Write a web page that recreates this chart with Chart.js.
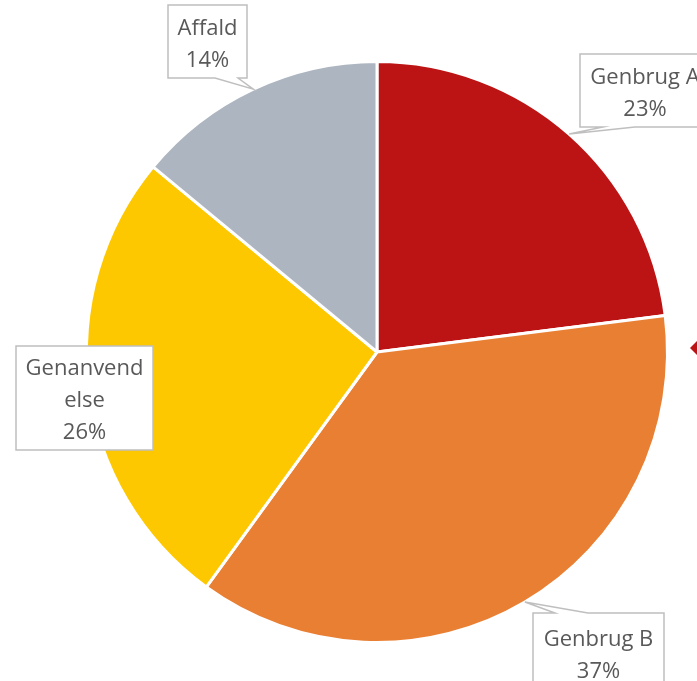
<!DOCTYPE html>
<html>
<head>
<meta charset="utf-8">
<script src="https://cdn.jsdelivr.net/npm/chart.js@4/dist/chart.umd.min.js"></script>
<style>
  html, body { margin: 0; padding: 0; background: #fff; }
  #wrap { width: 697px; height: 681px; }
</style>
</head>
<body>
<div id="wrap"><canvas id="pie"></canvas></div>
<script>
// data
const categories = ["Genbrug A", "Genbrug B", "Genanvendelse", "Affald"];
const shares = [23, 37, 26, 14];
const sliceColors = ["#BC1414", "#E97F33", "#FDC800", "#ADB5C0"];

// callout boxes (position of the box, tail base on box edge)
const callouts = [
    {x: 580, y: 54, w: 130, h: 73, tail: "bottom", t1: 603, t2: 635},
    {x: 533, y: 613, w: 131, h: 80, tail: "top", t1: 555, t2: 588},
    {x: 16, y: 346, w: 137, h: 104, tail: null, wrap: 9},
    {x: 168, y: 5, w: 79, h: 73, tail: "bottom", t1: 215, t2: 238}
];

const calloutPlugin = {
    id: "callouts",
    afterDraw(chart) {
        let ctx = chart.ctx;
        let meta = chart.getDatasetMeta(0);
        let total = shares.reduce((a, b) => a + b, 0);
        ctx.save();
        meta.data.forEach(function(arc, i) {
            let c = callouts[i];
            let p = arc.getProps(["x", "y", "startAngle", "endAngle", "outerRadius"], true);
            let mid = (p.startAngle + p.endAngle) / 2;
            let tipX = p.x + Math.cos(mid) * p.outerRadius;
            let tipY = p.y + Math.sin(mid) * p.outerRadius;

            ctx.beginPath();
            ctx.moveTo(c.x, c.y);
            if (c.tail === "top") {
                ctx.lineTo(c.t1, c.y);
                ctx.lineTo(tipX, tipY);
                ctx.lineTo(c.t2, c.y);
            }
            ctx.lineTo(c.x + c.w, c.y);
            ctx.lineTo(c.x + c.w, c.y + c.h);
            if (c.tail === "bottom") {
                ctx.lineTo(c.t2, c.y + c.h);
                ctx.lineTo(tipX, tipY);
                ctx.lineTo(c.t1, c.y + c.h);
            }
            ctx.lineTo(c.x, c.y + c.h);
            ctx.closePath();
            ctx.fillStyle = "#FFFFFF";
            ctx.fill();
            ctx.strokeStyle = "#BFBFBF";
            ctx.lineWidth = 1.5;
            ctx.stroke();

            let name = categories[i];
            let lines = c.wrap ? [name.slice(0, c.wrap), name.slice(c.wrap)] : [name];
            lines.push(Math.round(shares[i] / total * 100) + "%");
            let lh = 32;
            let cy = c.y + c.h / 2 + 3 - (lines.length - 1) * lh / 2;
            ctx.fillStyle = "#595959";
            ctx.font = "22px 'Open Sans', 'Noto Sans', sans-serif";
            ctx.textAlign = "center";
            ctx.textBaseline = "middle";
            lines.forEach(function(l, k) {
                ctx.fillText(l, c.x + c.w / 2, cy + k * lh);
            });
        });

        // clipped legend marker at the right edge
        let a = chart.chartArea;
        let mx = a.right + 28, my = (a.top + a.bottom) / 2 - 4;
        ctx.beginPath();
        ctx.moveTo(mx - 7, my);
        ctx.lineTo(mx, my - 7);
        ctx.lineTo(mx + 7, my);
        ctx.lineTo(mx, my + 7);
        ctx.closePath();
        ctx.fillStyle = sliceColors[0];
        ctx.fill();
        ctx.restore();
    }
};

new Chart(document.getElementById("pie"), {
    type: "pie",
    data: {
        labels: categories,
        datasets: [{
            data: shares,
            backgroundColor: sliceColors,
            borderColor: "#FFFFFF",
            borderWidth: 3,
            hoverOffset: 0
        }]
    },
    options: {
        responsive: true,
        maintainAspectRatio: false,
        animation: false,
        layout: {
            padding: {left: 85, right: 28, top: 60, bottom: 37}
        },
        plugins: {
            legend: {display: false},
            tooltip: {enabled: false}
        }
    },
    plugins: [calloutPlugin]
});
</script>
</body>
</html>
